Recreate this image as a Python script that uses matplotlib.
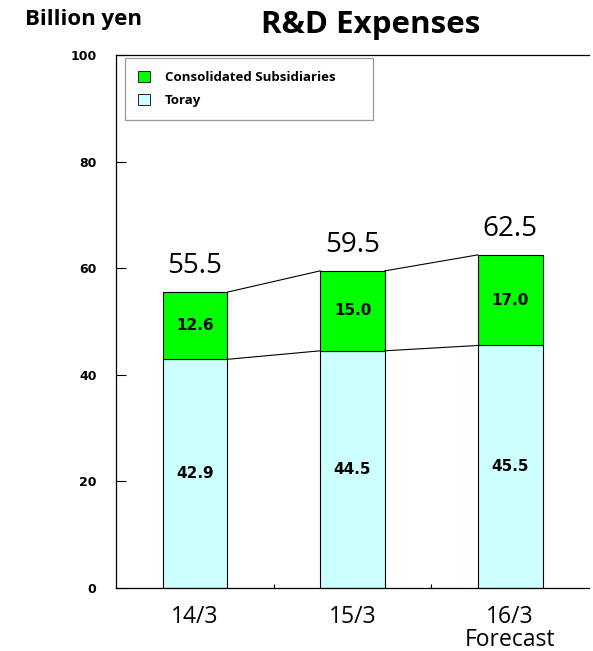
import numpy as np
import matplotlib
matplotlib.use('Agg')
import matplotlib.pyplot as plt
from matplotlib.ticker import FixedLocator

periods = ['14/3', '15/3', '16/3\nForecast']
toray = [42.9, 44.5, 45.5]
subsidiaries = [12.6, 15.0, 17.0]
totals = [55.5, 59.5, 62.5]

GREEN = '#00FF00'
CYAN = '#CCFFFF'
LABEL_FONT = 'Open Sans'
NUM_FONT = 'DejaVu Sans'

fig = plt.figure(figsize=(5.93, 6.51), dpi=100)
ax = fig.add_axes([0.1956, 0.0968, 0.7977, 0.8187])

x = np.arange(len(periods))
width = 0.41
b1 = ax.bar(x, toray, width, color=CYAN, edgecolor='black', linewidth=0.8, label='Toray')
b2 = ax.bar(x, subsidiaries, width, bottom=toray, color=GREEN, edgecolor='black',
            linewidth=0.8, label='Consolidated Subsidiaries')

# lines linking the segment tops of neighbouring bars
for i in range(len(x) - 1):
    xs = [x[i] + width / 2, x[i + 1] - width / 2]
    ax.plot(xs, [toray[i], toray[i + 1]], color='black', lw=0.8)
    ax.plot(xs, [totals[i], totals[i + 1]], color='black', lw=0.8)

for i in range(len(x)):
    ax.text(x[i], toray[i] / 2, f'{toray[i]:.1f}', ha='center', va='center',
            fontsize=11, fontweight='bold', family=NUM_FONT)
    ax.text(x[i], toray[i] + subsidiaries[i] / 2, f'{subsidiaries[i]:.1f}',
            ha='center', va='center', fontsize=11, fontweight='bold', family=NUM_FONT)
    ax.text(x[i], totals[i] + 2.2, f'{totals[i]:.1f}', ha='center', va='bottom',
            fontsize=20, family=LABEL_FONT)

ax.set_xlim(-0.5, 2.5)
ax.set_ylim(0, 100)
ax.set_yticks([0, 20, 40, 60, 80, 100])
ax.tick_params(axis='y', direction='in', length=7, width=0.8, pad=14, labelsize=9)
for lbl in ax.get_yticklabels():
    lbl.set_fontweight('bold')
    lbl.set_family(NUM_FONT)
ax.set_xticks(x)
ax.set_xticklabels(periods, fontsize=16.5, family=LABEL_FONT, linespacing=0.95)
ax.tick_params(axis='x', which='major', length=0, pad=12)
ax.xaxis.set_minor_locator(FixedLocator([0.5, 1.5]))
ax.tick_params(axis='x', which='minor', direction='in', length=3, width=0.8)

ax.spines['right'].set_visible(False)
for s in ['left', 'top', 'bottom']:
    ax.spines[s].set_linewidth(0.9)

leg = ax.legend(handles=[b2, b1], loc='upper left', mode='expand',
                bbox_to_anchor=(0.019, 0.9944, 0.524, 0.0), borderaxespad=0,
                frameon=True, fancybox=False, edgecolor='#808080', handlelength=0.9,
                handleheight=0.9, handletextpad=1.15, borderpad=1.0, labelspacing=0.75,
                prop={'family': LABEL_FONT, 'weight': 'bold', 'size': 9.5})
leg.get_frame().set_linewidth(0.9)
for p in leg.get_patches():
    p.set_linewidth(0.6)

fig.text(0.625, 0.949, 'R&D Expenses', ha='center', va='baseline', fontsize=22.5,
         fontweight='bold', family=LABEL_FONT)
fig.text(0.042, 0.9616, 'Billion yen', ha='left', va='baseline', fontsize=16,
         fontweight='bold', family=LABEL_FONT)

fig.savefig('out.png', dpi=100)
